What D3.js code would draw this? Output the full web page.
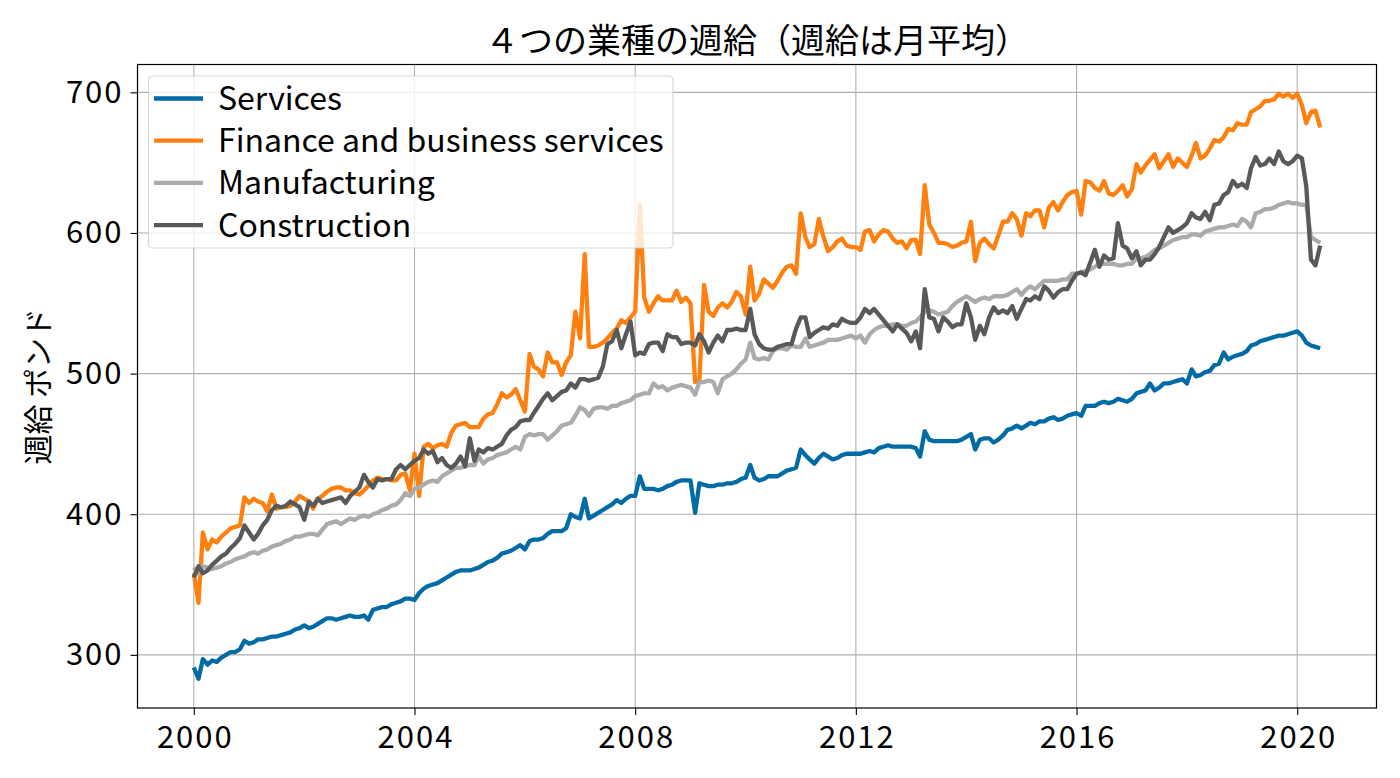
<!DOCTYPE html>
<html>
<head>
<meta charset="utf-8">
<script src="https://cdn.jsdelivr.net/npm/d3@7"></script>
<style>
  html, body { margin: 0; padding: 0; background: #fff; }
  svg { display: block; }
  text { font-family: "Noto Sans CJK JP", "Noto Sans", sans-serif; fill: #000; }
</style>
</head>
<body>
<svg id="chart" width="1400" height="778"></svg>
<script>
// ---- data (monthly, Jan 2000 – Jun 2020) ----
const startYear = 2000;
const seriesNames = ["Services", "Finance and business services", "Manufacturing", "Construction"];
const seriesColors = ["#006BA4", "#FF800E", "#ABABAB", "#595959"];

const services = [
  291,283,297,293,296,295,298,300,302,302,304,310,
  308,309,311,311,312,313,313,314,315,316,318,319,
  321,319,320,322,324,326,326,325,326,327,328,327,
  327,328,325,332,333,334,334,336,337,338,340,340,
  339,344,347,349,350,351,353,355,357,359,360,360,
  360,361,362,364,366,367,369,372,373,374,376,378,
  375,381,382,382,383,386,388,388,388,390,400,398,
  397,411,397,399,401,403,405,407,410,408,411,413,
  413,427,418,418,418,417,418,420,421,423,424,424,
  424,401,422,421,420,420,421,421,422,422,423,425,
  426,435,426,424,425,427,427,427,429,431,432,433,
  446,442,439,436,440,443,441,439,440,442,443,443,
  443,443,444,445,444,447,448,449,448,448,448,448,
  448,447,441,459,453,452,452,452,452,452,452,453,
  455,457,446,453,454,454,451,453,456,460,461,463,
  461,463,465,464,466,466,468,469,467,468,470,471,
  472,470,477,477,477,479,480,479,480,482,481,480,
  482,486,487,488,493,488,490,493,493,494,495,496,
  493,503,498,499,501,502,506,507,515,510,512,513,
  514,516,520,521,523,524,525,526,527,527,528,529,
  530,527,522,520,519,518
];

const finance = [
  358,337,387,375,382,380,384,387,390,391,392,412,
  408,411,409,408,402,414,404,405,405,406,409,413,
  411,409,404,411,413,416,418,419,419,417,417,415,
  414,417,420,424,426,425,425,424,424,428,429,417,
  443,413,448,450,447,449,450,448,458,463,464,465,
  462,462,462,468,471,472,478,486,483,485,489,481,
  473,514,505,503,498,515,508,508,499,508,513,544,
  525,585,519,519,520,522,525,529,532,538,536,540,
  544,620,554,544,550,555,552,552,552,559,551,554,
  550,494,495,563,544,541,547,550,547,551,558,555,
  542,576,552,557,567,564,561,566,572,576,577,571,
  614,597,590,592,610,597,587,590,594,596,591,590,
  590,588,601,602,594,599,602,601,596,593,594,589,
  595,595,585,634,606,600,593,593,592,590,591,593,
  594,608,580,593,596,592,589,598,608,608,614,610,
  598,614,612,616,616,604,618,622,616,622,627,629,
  630,613,637,636,632,630,637,628,627,630,634,626,
  631,649,643,648,652,656,646,651,656,647,653,650,
  647,655,664,653,655,660,666,665,668,674,673,678,
  677,677,686,688,690,694,694,695,699,697,699,696,
  699,691,678,686,687,675
];

const manufacturing = [
  362,358,363,362,361,362,363,365,366,368,369,370,
  372,373,372,374,375,377,378,379,381,382,384,384,
  385,386,386,385,389,393,394,395,393,395,397,396,
  398,399,398,400,401,403,404,406,407,410,415,413,
  418,419,421,423,424,423,427,429,431,433,433,434,
  435,435,441,436,439,440,442,443,444,446,448,446,
  455,457,456,457,457,453,456,459,463,464,465,470,
  476,474,470,475,476,476,475,477,477,479,480,481,
  484,485,486,486,493,490,491,488,490,491,492,491,
  490,485,494,494,495,494,486,496,498,500,503,507,
  510,522,511,510,511,510,516,518,518,517,520,519,
  519,525,519,520,521,522,524,524,524,525,526,527,
  525,527,522,528,531,533,534,534,535,535,534,534,
  536,537,540,544,545,544,542,543,544,548,551,553,
  555,553,551,553,554,553,555,555,555,556,558,560,
  556,560,562,560,563,566,566,566,566,567,567,571,
  571,572,573,574,576,578,578,578,578,577,577,578,
  578,582,582,583,585,588,589,591,593,595,596,597,
  597,599,599,598,601,602,603,604,604,605,606,605,
  610,608,604,614,615,617,617,618,620,621,622,621,
  621,620,620,597,595,593
];

const construction = [
  355,363,358,360,364,367,370,372,376,379,383,392,
  387,382,386,392,396,403,406,405,406,409,407,405,
  396,409,406,411,408,409,410,411,412,408,413,416,
  419,428,423,419,425,424,425,425,432,435,432,435,
  438,440,446,443,445,437,440,435,433,436,441,434,
  454,438,446,444,447,446,448,450,456,460,462,466,
  467,467,472,477,482,486,481,484,487,488,493,490,
  496,496,495,496,497,505,521,523,531,518,528,537,
  513,515,514,521,522,522,516,528,526,526,521,522,
  522,520,528,523,515,522,527,523,531,531,532,531,
  531,546,528,521,518,517,517,519,520,521,521,532,
  540,540,526,529,531,533,532,535,534,539,537,536,
  536,540,546,543,546,542,538,534,530,535,532,529,
  523,530,518,560,540,539,530,540,537,533,535,535,
  550,540,524,534,528,540,547,543,545,543,548,539,
  546,553,552,555,553,562,559,554,558,560,560,566,
  571,572,570,579,588,576,584,581,582,607,591,589,
  582,587,577,581,581,585,590,597,604,600,602,604,
  607,614,611,610,615,609,620,621,627,629,637,633,
  635,632,646,654,648,649,653,649,658,651,649,651,
  655,653,633,581,577,591
];

const seriesValues = [services, finance, manufacturing, construction];
const xTickYears = [2000, 2004, 2008, 2012, 2016, 2020];
const yTickValues = [300, 400, 500, 600, 700];
const titleText = "４つの業種の週給（週給は月平均）";
const yLabelText = "週給 ポンド";

// ---- layout ----
const W = 1400, H = 778;
const plot = { left: 137.5, top: 64.5, right: 1376.5, bottom: 708 };
const LW = 4.3;

const monthDate = i => new Date(Date.UTC(startYear + Math.floor(i / 12), i % 12, 1));
const series = seriesNames.map((name, k) => ({
  name, color: seriesColors[k],
  points: seriesValues[k].map((v, i) => ({ date: monthDate(i), value: v }))
}));

const allDates = series[0].points.map(p => p.date);
const d0 = d3.min(allDates), d1 = d3.max(allDates);
const padT = (d1 - d0) * 0.05;
const x = d3.scaleUtc()
  .domain([new Date(+d0 - padT), new Date(+d1 + padT)])
  .range([plot.left, plot.right]);

const allVals = seriesValues.flat();
const vMin = d3.min(allVals), vMax = d3.max(allVals);
const padV = (vMax - vMin) * 0.05;
const y = d3.scaleLinear()
  .domain([vMin - padV, vMax + padV])
  .range([plot.bottom, plot.top]);

const svg = d3.select("#chart");
svg.append("rect").attr("width", W).attr("height", H).attr("fill", "#fff");

// grid
const xTickDates = xTickYears.map(yr => new Date(Date.UTC(yr, 0, 1)));
const grid = svg.append("g");
grid.selectAll("line.gx").data(xTickDates).join("line")
  .attr("x1", d => x(d)).attr("x2", d => x(d))
  .attr("y1", plot.top).attr("y2", plot.bottom)
  .attr("stroke", "#b0b0b0").attr("stroke-width", 1.1);
grid.selectAll("line.gy").data(yTickValues).join("line")
  .attr("x1", plot.left).attr("x2", plot.right)
  .attr("y1", d => y(d)).attr("y2", d => y(d))
  .attr("stroke", "#b0b0b0").attr("stroke-width", 1.1);

// lines
const clipId = "plotclip";
svg.append("clipPath").attr("id", clipId).append("rect")
  .attr("x", plot.left).attr("y", plot.top)
  .attr("width", plot.right - plot.left).attr("height", plot.bottom - plot.top);
const line = d3.line().x(d => x(d.date)).y(d => y(d.value));
svg.append("g").attr("clip-path", `url(#${clipId})`)
  .selectAll("path").data(series).join("path")
  .attr("d", d => line(d.points))
  .attr("fill", "none")
  .attr("stroke", d => d.color)
  .attr("stroke-width", LW)
  .attr("stroke-linejoin", "round")
  .attr("stroke-linecap", "butt");

// axes
const tickFont = 31;
const xAxis = d3.axisBottom(x).tickValues(xTickDates)
  .tickFormat(d => d.getUTCFullYear()).tickSize(7).tickPadding(11);
const gx = svg.append("g").attr("transform", `translate(0,${plot.bottom})`).call(xAxis);
gx.select(".domain").remove();
gx.selectAll(".tick line").attr("stroke", "#000").attr("stroke-width", 1.1);
gx.selectAll(".tick text").attr("font-size", tickFont)
  .attr("font-family", '"Noto Sans CJK JP", sans-serif').attr("fill", "#000")
  .attr("letter-spacing", 2).attr("dx", 1);

const yAxis = d3.axisLeft(y).tickValues(yTickValues).tickSize(7).tickPadding(9);
const gy = svg.append("g").attr("transform", `translate(${plot.left},0)`).call(yAxis);
gy.select(".domain").remove();
gy.selectAll(".tick line").attr("stroke", "#000").attr("stroke-width", 1.1);
gy.selectAll(".tick text").attr("font-size", tickFont)
  .attr("font-family", '"Noto Sans CJK JP", sans-serif').attr("fill", "#000")
  .attr("letter-spacing", 2).attr("dx", 2);

// frame
svg.append("rect")
  .attr("x", plot.left).attr("y", plot.top)
  .attr("width", plot.right - plot.left).attr("height", plot.bottom - plot.top)
  .attr("fill", "none").attr("stroke", "#000").attr("stroke-width", 1.2);

// title
svg.append("text")
  .attr("x", (plot.left + plot.right) / 2).attr("y", 53)
  .attr("text-anchor", "middle").attr("font-size", 34)
  .text(titleText);

// y label
svg.append("text")
  .attr("transform", `translate(49,${(plot.top + plot.bottom) / 2}) rotate(-90)`)
  .attr("text-anchor", "middle").attr("font-size", 30)
  .text(yLabelText);

// legend
const leg = { x: 148.5, y: 76, w: 524.5, h: 172, row: 42.2 };
const lg = svg.append("g");
lg.append("rect")
  .attr("x", leg.x).attr("y", leg.y).attr("width", leg.w).attr("height", leg.h)
  .attr("rx", 4).attr("fill", "#fff").attr("fill-opacity", 0.8)
  .attr("stroke", "#cccccc").attr("stroke-opacity", 0.8).attr("stroke-width", 1.1);
const items = lg.selectAll("g.item").data(series).join("g")
  .attr("transform", (d, i) => `translate(0,${leg.y + 22.5 + i * leg.row})`);
items.append("line")
  .attr("x1", 154).attr("x2", 203).attr("y1", 0).attr("y2", 0)
  .attr("stroke", d => d.color).attr("stroke-width", LW);
items.append("text")
  .attr("x", 218).attr("y", 0).attr("dy", "0.36em")
  .attr("font-size", 32)
  .text(d => d.name);
</script>
</body>
</html>
